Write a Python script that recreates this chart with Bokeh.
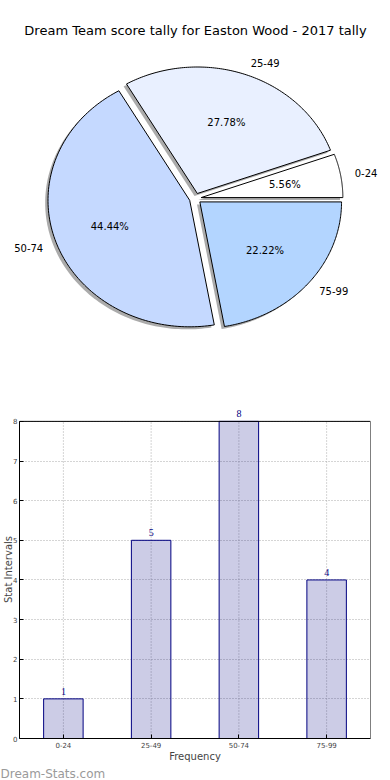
import numpy as np
from bokeh.plotting import figure
from bokeh.models import (Range1d, Label, LabelSet, FactorRange, ColumnDataSource,
                          BoxAnnotation, Title)
from bokeh.layouts import column, row
from bokeh.embed import file_html
from bokeh.resources import INLINE
from bokeh.core.properties import value

# ---------------- data ----------------
title_text = "Dream Team score tally for Easton Wood - 2017 tally"
categories = ["0-24", "25-49", "50-74", "75-99"]
counts = [1, 5, 8, 4]
slice_colors = ["#ffffff", "#e9f0ff", "#c5d9ff", "#b3d5ff"]
x_label = "Frequency"
y_label = "Stat Intervals"
y_ticks = [0, 1, 2, 3, 4, 5, 6, 7, 8]
watermark = "Dream-Stats.com"

FONT = "DejaVu Sans"
W = 390
PIE_H = 400
BAR_H = 380

# ---------------- pie ----------------
explode = 0.042
total = float(sum(counts))
fracs = np.array(counts) / total
ends = np.cumsum(fracs) * 2 * np.pi
starts = ends - fracs * 2 * np.pi

xs, ys, sxs, sys_ = [], [], [], []
lab_x, lab_y, lab_al = [], [], []
pct_x, pct_y, pct_t = [], [], []
for s, e, f in zip(starts, ends, fracs):
    mid = (s + e) / 2
    cx, cy = explode * np.cos(mid), explode * np.sin(mid)
    t = np.linspace(s, e, 120)
    px = np.concatenate([[cx], cx + np.cos(t), [cx]])
    py = np.concatenate([[cy], cy + np.sin(t), [cy]])
    xs.append(list(px)); ys.append(list(py))
    sxs.append(list(px - 0.02)); sys_.append(list(py - 0.02))
    lab_x.append(cx + 1.1 * np.cos(mid)); lab_y.append(cy + 1.1 * np.sin(mid))
    lab_al.append("left" if np.cos(mid) > 0 else "right")
    pct_x.append(cx + 0.6 * np.cos(mid)); pct_y.append(cy + 0.6 * np.sin(mid))
    pct_t.append("%.2f%%" % (f * 100))

p1 = figure(width=W, height=PIE_H, x_range=Range1d(-1.3747, 1.3776),
            y_range=Range1d(-1.5968, 1.5652), output_backend="svg",
            toolbar_location=None, x_axis_type=None, y_axis_type=None,
            min_border=0)
p1.grid.visible = False
p1.outline_line_color = None

p1.patches(xs=sxs, ys=sys_, fill_color="#666666", fill_alpha=0.55, line_color=None)
p1.patches(xs=xs, ys=ys, fill_color=slice_colors, line_color="black", line_width=1)

lab_src = ColumnDataSource(dict(x=lab_x, y=lab_y, t=categories, al=lab_al))
p1.text(x="x", y="y", text="t", text_align="al", text_baseline="middle",
        text_font=value(FONT), text_font_size="10px", text_color="black", source=lab_src)
p1.text(x=pct_x, y=pct_y, text=pct_t, text_align="center", text_baseline="middle",
        text_font=value(FONT), text_font_size="10px", text_color="black")

p1.add_layout(Label(x=195, y=PIE_H - 30, x_units="screen", y_units="screen",
                    text=title_text, text_align="center", text_baseline="middle",
                    text_font=FONT, text_font_size="13px", text_color="black"))

# ---------------- bars ----------------
y_top = max(y_ticks)
y_end = y_top * 340.0 / 319.0   # head-room above the box for the value labels
p2 = figure(width=W, height=BAR_H, x_range=FactorRange(*categories),
            y_range=Range1d(0, y_end), output_backend="svg", toolbar_location=None,
            min_border_left=19, min_border_right=20, min_border_top=0,
            min_border_bottom=40)
p2.outline_line_color = None
p2.xgrid.visible = False

# dotted vertical grid lines through the category centres
p2.segment(x0=categories, y0=[0] * len(categories), x1=categories,
           y1=[y_top] * len(categories), line_color="#aaaaaa", line_dash="1 2",
           line_width=1, level="underlay")
p2.ygrid.grid_line_color = "#aaaaaa"
p2.ygrid.grid_line_dash = "1 2"
p2.ygrid.grid_line_width = 1

src = ColumnDataSource(dict(cat=categories, cnt=counts, lab=[str(c) for c in counts]))
p2.vbar(x="cat", top="cnt", width=0.45, fill_color="navy", fill_alpha=0.2,
        line_color="navy", line_width=1, source=src)
p2.add_layout(LabelSet(x="cat", y="cnt", text="lab", source=src, text_align="center",
                       text_baseline="alphabetic", y_offset=4, text_font=FONT,
                       text_font_size="10px", text_color="navy"))

# axes box (0..8)
p2.add_layout(BoxAnnotation(left=0, right=len(categories), bottom=0, top=y_top,
                            fill_color=None, fill_alpha=0, line_color="black",
                            line_width=1, line_alpha=1))

p2.xaxis.axis_label = x_label
p2.xaxis.axis_label_text_font = FONT
p2.xaxis.axis_label_text_font_size = "10px"
p2.xaxis.axis_label_text_font_style = "normal"
p2.xaxis.axis_label_standoff = 0
p2.xaxis.axis_label_text_line_height = 1.0
p2.yaxis.axis_label = y_label
p2.yaxis.axis_label_text_font = FONT
p2.yaxis.axis_label_text_font_size = "10px"
p2.yaxis.axis_label_text_font_style = "normal"
p2.yaxis.axis_label_standoff = -4
p2.yaxis.ticker = y_ticks
p2.yaxis.bounds = (0, y_top)
for ax in (p2.xaxis, p2.yaxis):
    ax.major_label_text_font = FONT
    ax.major_label_text_font_size = "7px"
    ax.major_tick_in = 4
    ax.major_tick_out = 0
    ax.minor_tick_in = 0
    ax.minor_tick_out = 0
    ax.axis_line_color = "black"
    ax.major_tick_line_color = "black"
p2.xaxis.major_label_standoff = 3
p2.yaxis.major_label_standoff = 2

p2.add_layout(Title(text=watermark, align="left", offset=-19, standoff=0,
                    text_font=FONT, text_font_size="12px", text_font_style="normal",
                    text_line_height=1.0, text_color="#9a9a9a"), "below")

layout = column(row(p1), row(p2), spacing=0)
open("out.html", "w").write(file_html(layout, INLINE))
